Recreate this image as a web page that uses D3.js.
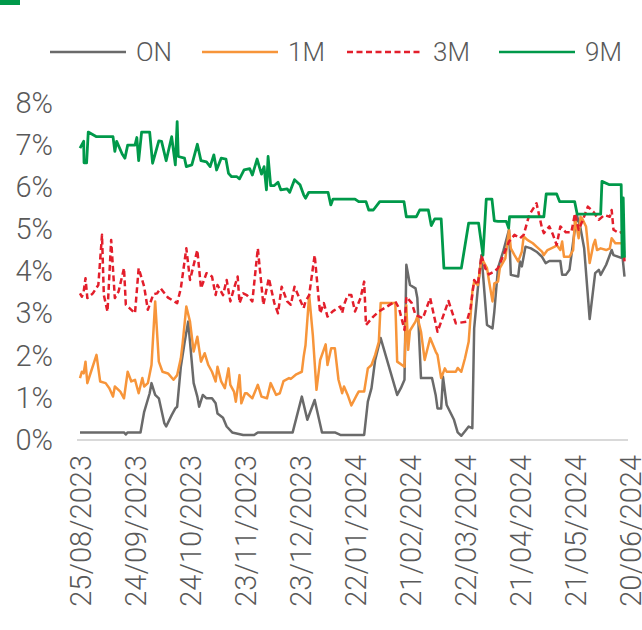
<!DOCTYPE html>
<html>
<head>
<meta charset="utf-8">
<script src="https://cdn.jsdelivr.net/npm/d3@7"></script>
<style>
  html, body { margin: 0; padding: 0; background: #fff; }
  svg text { font-family: Roboto, "DejaVu Sans", sans-serif; font-weight: 300; fill: #595959; }
</style>
</head>
<body>
<div id="container"></div>
<script>
// series start date, points are [days since start, rate in %]
const startDate = "2023-08-25";
const seriesNames = ["ON", "1M", "3M", "9M"];
const tickDays = [0, 30, 60, 90, 120, 150, 180, 210, 240, 270, 300];
const yTicks = [0, 1, 2, 3, 4, 5, 6, 7, 8];

const onRates = [[0,0.18],[24,0.18],[25,0.13],[26,0.18],[33,0.18],[35,0.67],[38,1.11],[39,1.35],[41,1.07],[43,0.99],[46,0.4],[47,0.32],[50,0.59],[52,0.75],[53,0.79],[55,1.74],[57,2.3],[59,2.81],[60,2.33],[62,1.35],[64,1.03],[65,0.79],[67,1.07],[69,0.99],[72,0.99],[74,0.87],[75,0.63],[78,0.53],[80,0.32],[83,0.18],[89,0.12],[95,0.12],[97,0.18],[116,0.18],[121,1.03],[124,0.48],[128,0.95],[132,0.18],[139,0.18],[142,0.12],[155,0.12],[157,0.91],[159,1.23],[161,1.9],[164,2.42],[173,1.07],[175,1.23],[177,1.43],[178,4.16],[180,3.68],[183,3.6],[184,3.37],[186,1.47],[192,1.47],[194,1.07],[195,0.75],[197,0.75],[198,1.5],[200,0.83],[204,0.48],[206,0.18],[208,0.1],[210,0.21],[212,0.32],[214,0.28],[215,2.65],[217,3.6],[219,4.39],[222,2.73],[225,2.65],[226,3.05],[228,4.08],[231,4.5],[234,4.99],[235,3.92],[239,3.88],[240,4.24],[241,4.12],[243,4.59],[246,4.55],[249,4.47],[252,4.35],[254,4.2],[256,4.25],[262,4.25],[263,3.92],[265,3.92],[267,4.04],[269,4.71],[271,5.34],[273,5.03],[275,4.55],[278,2.87],[281,3.96],[283,4.04],[284,3.92],[287,4.16],[290,4.51],[291,4.39],[296,4.31],[297,3.88]];

const m1Rates = [[0,1.47],[1,1.62],[2,1.58],[3,1.86],[4,1.35],[6,1.62],[9,2.02],[11,1.39],[14,1.35],[16,1.23],[18,1.03],[19,1.27],[22,1.15],[24,0.99],[26,1.62],[28,1.39],[30,1.43],[32,1.11],[34,1.47],[35,1.27],[37,1.35],[39,1.78],[41,3.29],[43,1.86],[45,1.62],[48,1.58],[51,1.43],[53,1.54],[55,1.94],[56,2.3],[58,3.17],[60,2.81],[62,2.1],[64,2.45],[66,1.86],[68,2.06],[70,1.78],[72,1.62],[74,1.39],[75,1.74],[77,1.39],[79,1.23],[81,1.7],[82,1.31],[84,1.15],[85,0.91],[87,1.54],[88,0.87],[90,1.11],[91,1.11],[94,0.99],[97,1.31],[99,1.03],[102,0.99],[104,1.35],[107,1.07],[109,1.11],[111,1.4],[114,1.47],[115,1.45],[118,1.56],[121,1.62],[122,1.98],[123,2.25],[125,3.44],[127,2.49],[129,1.19],[131,1.9],[134,2.27],[135,1.78],[137,2.18],[139,2.18],[141,1.43],[143,1.11],[144,1.27],[146,1.07],[148,0.82],[151,1.07],[152,1.15],[155,1.15],[157,1.7],[159,1.78],[161,2.02],[163,2.33],[164,3.25],[172,3.25],[173,1.86],[177,1.74],[178,3.2],[179,2.14],[180,2.6],[183,2.81],[184,2.93],[186,2.57],[188,1.9],[191,2.42],[194,2.1],[195,2.02],[197,1.47],[199,1.7],[200,1.62],[205,1.62],[206,1.71],[208,1.62],[210,1.94],[212,2.33],[214,3.52],[215,3.76],[217,3.68],[219,4.28],[220,4.24],[222,4.08],[223,3.8],[225,3.29],[226,3.72],[228,3.76],[229,4.08],[232,4.31],[234,4.99],[235,4.55],[237,4.39],[239,4.24],[241,4.47],[242,4.83],[244,4.75],[247,4.67],[249,4.59],[252,4.47],[253,4.39],[255,4.51],[257,4.55],[259,4.59],[260,4.63],[262,4.51],[263,4.71],[264,4.35],[267,4.35],[269,4.51],[270,5.27],[272,4.79],[273,5.3],[274,5.25],[276,5.07],[278,4.2],[280,4.63],[281,4.75],[282,4.51],[284,4.55],[287,4.51],[289,4.55],[290,4.79],[292,4.67],[296,4.67],[297,4.63]];

const m3Rates = [[0,3.48],[1,3.4],[2,3.52],[3,3.84],[4,3.37],[7,3.48],[10,3.68],[12,4.87],[13,3.44],[15,3.05],[17,4.75],[19,3.37],[21,3.52],[24,4.08],[25,3.21],[27,3.13],[30,3.01],[32,4.08],[35,3.64],[37,3.09],[40,3.46],[42,3.48],[44,3.6],[48,3.38],[53,3.25],[55,3.6],[58,4.55],[60,3.8],[64,4.51],[66,3.6],[69,3.96],[72,3.88],[74,3.44],[75,3.68],[78,3.44],[80,3.8],[82,3.29],[84,3.6],[86,3.88],[87,3.25],[89,3.48],[91,3.44],[94,3.29],[97,4.55],[100,3.21],[103,3.84],[106,3.25],[108,3.01],[110,3.64],[113,3.29],[115,3.21],[117,3.64],[120,3.33],[122,3.13],[123,3.29],[125,3.44],[128,4.39],[130,3.44],[131,3.01],[133,3.25],[135,2.93],[138,3.06],[142,3.17],[143,3.01],[144,3.21],[146,3.44],[148,3.44],[150,3.05],[153,3.37],[155,3.76],[156,2.73],[160,2.93],[163,3.05],[172,3.29],[174,3.13],[177,2.61],[178,3.4],[181,3.25],[183,2.97],[187,2.89],[191,3.37],[193,2.97],[195,2.57],[197,2.81],[201,3.3],[205,2.77],[211,2.81],[213,3.13],[215,3.8],[217,3.68],[219,4.39],[221,4.08],[223,3.93],[226,4.0],[228,4.08],[231,4.39],[234,4.71],[237,4.87],[240,4.79],[242,4.87],[245,5.34],[249,5.62],[252,5.03],[253,4.91],[256,5.07],[258,4.87],[260,4.63],[262,5.07],[265,4.93],[268,4.93],[270,5.38],[272,4.99],[274,5.19],[277,5.54],[280,5.42],[283,5.23],[286,5.34],[289,5.3],[290,5.46],[291,4.99],[294,4.91],[296,4.95],[297,4.24]];

const m9Rates = [[0,6.93],[2,7.09],[2.2,6.58],[3.6,6.58],[4.5,7.31],[9,7.2],[18,7.2],[19,6.85],[20,7.09],[23,6.79],[24.5,6.69],[26,7.0],[30,7.0],[31,7.18],[32,6.63],[33.6,7.31],[38,7.31],[39.6,6.57],[43,7.1],[44.5,7.09],[47,6.63],[50,7.2],[52,6.53],[53,7.56],[53.6,6.73],[57,6.69],[58,6.49],[61,6.53],[64,7.02],[66,6.63],[69,6.6],[71,6.49],[73,6.77],[74.5,6.41],[77,6.69],[79.6,6.67],[81,6.33],[82.7,6.25],[85.6,6.25],[87,6.2],[89.5,6.41],[92.6,6.44],[94,6.29],[96.6,6.67],[99,6.31],[100.4,6.49],[101.7,5.94],[102.6,6.73],[104,6.04],[106,6.04],[108,6.12],[109.5,5.94],[113,5.96],[114.4,5.88],[117,6.18],[120,6.06],[122,5.82],[123,5.74],[124.8,5.88],[135.3,5.88],[136.8,5.58],[138,5.72],[150,5.72],[152,5.66],[156,5.66],[157.5,5.46],[160,5.46],[163.5,5.66],[176.7,5.66],[178,5.3],[183.5,5.3],[185.3,5.46],[190,5.46],[191.6,5.09],[193.5,5.25],[197,5.25],[198.5,4.08],[208,4.08],[212,5.15],[217.4,5.15],[219.8,4.39],[221.6,5.72],[224.7,5.72],[226,5.2],[228,5.19],[232.5,5.19],[233.8,5.03],[234.3,5.3],[253,5.3],[254.3,5.84],[260,5.84],[261.6,5.66],[269.8,5.66],[271.2,5.36],[284,5.36],[284.7,6.14],[288.8,6.06],[295.2,6.06],[295.7,4.35],[296.3,5.75],[297,4.33]];

const colors = ["#6a6a6a", "#f7953a", "#e31e2b", "#00994a"];
const dashes = [null, null, "6,3.5", null];

const width = 642;
const height = 630;
const marginLeft = 80;
const marginRight = 12;
const marginTop = 103;
const axisY = 440;

const t0 = new Date(startDate + "T00:00:00Z");
const toDate = d => new Date(t0.getTime() + d * 864e5);

const x = d3.scaleUtc()
  .domain([toDate(0), toDate(300)])
  .range([marginLeft, width - marginRight]);

const y = d3.scaleLinear()
  .domain([0, 8])
  .range([axisY, marginTop]);

const svg = d3.create("svg")
  .attr("width", width)
  .attr("height", height)
  .attr("viewBox", [0, 0, width, height]);

// little green block of the cut-off title
svg.append("rect")
  .attr("x", 0).attr("y", 0)
  .attr("width", 20).attr("height", 5)
  .attr("fill", colors[3]);

// legend
const legendX = [50, 202, 347, 499];
const legend = svg.append("g")
  .selectAll("g")
  .data(seriesNames)
  .join("g")
  .attr("transform", (d, i) => `translate(${legendX[i]},52)`);

legend.append("line")
  .attr("x1", 0).attr("x2", 76)
  .attr("stroke", (d, i) => colors[i])
  .attr("stroke-width", 2.5)
  .attr("stroke-dasharray", (d, i) => dashes[i]);

legend.append("text")
  .attr("x", 86)
  .attr("dy", "0.36em")
  .attr("font-size", 26)
  .text(d => d);

// y axis
svg.append("g")
  .attr("transform", `translate(53,0)`)
  .call(d3.axisLeft(y)
    .tickValues(yTicks)
    .tickSize(0)
    .tickPadding(0)
    .tickFormat(d => d + "%"))
  .call(g => g.select(".domain").remove())
  .selectAll("text")
  .attr("font-size", 29)
  .attr("font-family", null)
  .attr("fill", null);

// baseline
svg.append("line")
  .attr("x1", 77).attr("x2", 628)
  .attr("y1", axisY).attr("y2", axisY)
  .attr("stroke", "#d9d9d9")
  .attr("stroke-width", 2);

// x axis
svg.append("g")
  .attr("transform", `translate(0,${axisY})`)
  .call(d3.axisBottom(x)
    .tickValues(tickDays.map(toDate))
    .tickSize(0)
    .tickFormat(d3.utcFormat("%d/%m/%Y")))
  .call(g => g.select(".domain").remove())
  .selectAll("text")
  .attr("font-size", 29)
  .attr("font-family", null)
  .attr("fill", null)
  .attr("text-anchor", "end")
  .attr("transform", "rotate(-90)")
  .attr("x", -15)
  .attr("y", 0)
  .attr("dy", "0.36em");

// lines
const line = d3.line()
  .x(d => x(toDate(d[0])))
  .y(d => y(d[1]));

svg.append("g")
  .selectAll("path")
  .data([onRates, m1Rates, m3Rates, m9Rates])
  .join("path")
  .attr("fill", "none")
  .attr("stroke", (d, i) => colors[i])
  .attr("stroke-width", (d, i) => i == 3 ? 2.8 : 2.5)
  .attr("stroke-dasharray", (d, i) => dashes[i])
  .attr("stroke-linejoin", "round")
  .attr("d", line);

container.append(svg.node());
</script>
</body>
</html>
